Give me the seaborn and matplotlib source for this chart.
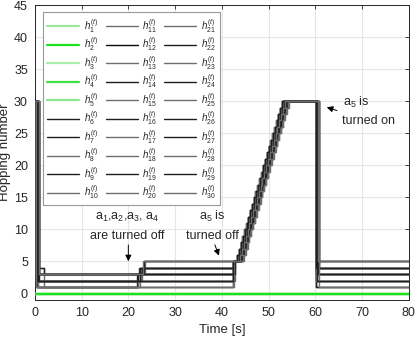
import numpy as np
import pandas as pd
import matplotlib
matplotlib.use("Agg")
import matplotlib.pyplot as plt
import seaborn as sns

sns.set_style("white")
plt.rcParams['font.family'] = ['Liberation Sans', 'DejaVu Sans']
plt.rcParams['mathtext.fontset'] = 'custom'
plt.rcParams['mathtext.rm'] = 'Liberation Sans'
plt.rcParams['mathtext.it'] = 'Liberation Sans:italic'

# ---------------- data ----------------
series_names = [f"h{i}" for i in range(1, 31)]
# nodes h1..h5 (green) stay at 0 for the whole run
green_level = [0, 0, 0, 0, 0]

# nodes h6..h30: step trajectories
start_level = [30] * 25
drop0_time = [0.3, 0.5, 0.7, 0.4, 0.6, 0.2, 0.8, 0.5, 0.9, 0.3,
              0.6, 0.4, 0.7, 0.5, 0.8, 0.3, 0.6, 0.9, 0.4, 0.7,
              0.5, 0.8, 0.3, 0.6, 0.9]
early_level = [1, 1, 4, 1, 1, 2, 2, 2, 4, 2, 2, 2, 3, 3, 3, 3, 3, 3, 3, 1, 2, 3, 1, 2, 3]
settle_time = [0.3, 0.5, 2.0, 0.4, 0.6, 0.2, 0.8, 0.5, 2.0, 0.3,
               0.6, 0.4, 0.7, 0.5, 0.8, 0.3, 0.6, 0.9, 0.4, 0.7,
               0.5, 0.8, 0.3, 0.6, 0.9]
level_a = [1, 1, 1, 1, 1, 2, 2, 2, 3, 2, 2, 2, 3, 3, 3, 3, 3, 3, 3, 1, 2, 3, 1, 2, 3]
switch_time = [22.5, 22.0, 22.4, 21.8, 22.2, 22.6, 22.0, 23.0, 22.3, 22.8,
               22.1, 21.9, 22.5, 23.3, 23.5, 22.7, 23.4, 22.2, 22.9, 22.0,
               22.4, 22.6, 22.3, 22.1, 23.2]
level_b = [1, 2, 2, 3, 1, 2, 3, 3, 4, 4, 3, 2, 4, 5, 5, 4, 5, 3, 4, 2, 3, 4, 1, 2, 5]
ramp_jump_time = [42.3, 42.5, 42.6, 42.4, 42.3, 42.8, 42.5, 42.7, 42.4, 42.6,
                  42.5, 42.3, 42.8, 42.6, 42.4, 42.7, 42.5, 42.3, 42.6, 42.4,
                  42.8, 42.5, 42.7, 42.3, 42.6]
ramp_shift = [0.0, 0.3, 0.6, 0.1, 0.9, 0.4, 1.2, 0.2, 0.7, 1.5,
              0.5, 0.0, 0.8, 1.0, 0.3, 1.3, 0.6, 0.2, 1.1, 0.4,
              0.9, 0.1, 1.4, 0.5, 0.7]
# times at which levels 6..30 are reached on the leading edge of the ramp
ramp_levels = list(range(6, 31))
ramp_times = [43.2, 43.6, 44.0, 44.4, 44.8, 45.2, 45.6, 46.0, 46.4, 46.8,
              47.2, 47.6, 48.0, 48.4, 48.8, 49.2, 49.6, 50.0, 50.4, 50.8,
              51.2, 51.6, 52.0, 52.4, 52.8]
drop2_time = [60.1, 60.2, 60.3, 60.1, 60.5, 60.2, 60.6, 60.4, 60.3, 60.8,
              60.2, 60.1, 60.5, 60.7, 60.3, 60.6, 60.4, 60.2, 60.7, 60.3,
              60.5, 60.1, 60.8, 60.4, 60.6]
level_c = [1, 1, 2, 2, 3, 2, 3, 3, 4, 4, 3, 2, 4, 5, 5, 4, 5, 3, 4, 2, 3, 4, 1, 2, 5]
t_end = 80

colors = ['#9be89b', '#1fe01f', '#a8eea8', '#3fe03f', '#8fe88f',
          '#1e1e1e', '#1e1e1e', '#6e6e6e', '#1e1e1e', '#6e6e6e',
          '#6e6e6e', '#0a0a0a', '#6e6e6e', '#1e1e1e', '#6e6e6e',
          '#1e1e1e', '#6e6e6e', '#6e6e6e', '#1e1e1e', '#6e6e6e',
          '#6e6e6e', '#1e1e1e', '#6e6e6e', '#1e1e1e', '#6e6e6e',
          '#1e1e1e', '#1e1e1e', '#6e6e6e', '#1e1e1e', '#6e6e6e']

# ---------------- build long table ----------------
rows = []
for k in range(5):
    rows.append((series_names[k], 0.0, green_level[k]))
    rows.append((series_names[k], t_end, green_level[k]))
for j in range(25):
    name = series_names[5 + j]
    pts = [(0.0, start_level[j]), (drop0_time[j], early_level[j]),
           (settle_time[j], level_a[j]), (switch_time[j], level_b[j]),
           (ramp_jump_time[j], max(level_b[j], 5))]
    for lv, rt in zip(ramp_levels, ramp_times):
        pts.append((rt + ramp_shift[j], lv))
    pts.append((drop2_time[j], level_c[j]))
    pts.append((t_end, level_c[j]))
    for t, v in pts:
        rows.append((name, t, v))
df = pd.DataFrame(rows, columns=["node", "time", "hops"])

# ---------------- plot ----------------
fig = plt.figure(figsize=(4.15, 3.37), dpi=100)
ax = fig.add_axes([0.084, 0.11, 0.901, 0.875])

for i, name in enumerate(series_names):
    sub = df[df["node"] == name]
    lw = 1.6 if i < 5 else 1.0
    z = 3 if i != 1 else 4
    sns.lineplot(data=sub, x="time", y="hops", ax=ax, color=colors[i],
                 linewidth=lw, drawstyle="steps-post", estimator=None,
                 sort=False, label=rf"$h_{{{i+1}}}^{{(t)}}$", zorder=z)

ax.set_xlim(0, 80)
ax.set_ylim(-1, 45)
ax.set_xticks(range(0, 81, 10))
ax.set_yticks(range(0, 46, 5))
ax.grid(True, color='#e6e6e6', linewidth=0.8)
ax.set_axisbelow(True)
ax.tick_params(direction='in', top=True, right=True, length=3, width=0.6,
               labelsize=9, colors='#262626', pad=5)
for s in ax.spines.values():
    s.set_color('#262626')
    s.set_linewidth(0.7)
ax.set_xlabel("Time [s]", fontsize=9.5, color='#262626', labelpad=4)
ax.set_ylabel("Hopping number", fontsize=9.5, color='#262626', labelpad=2)

leg = ax.legend(ncol=3, loc='upper left', bbox_to_anchor=(0.021, 0.975),
                borderaxespad=0, fontsize=7, handlelength=3.3,
                handletextpad=0.5, columnspacing=0.7, labelspacing=0.07,
                frameon=True, fancybox=False, edgecolor='#999999',
                borderpad=0.45)
leg.get_frame().set_linewidth(0.8)
leg.get_frame().set_alpha(1)
leg.set_zorder(10)

arrow = dict(arrowstyle='-|>', color='black', lw=0.7, mutation_scale=9)
ax.text(19.7, 11.9, "a$_1$,a$_2$,a$_3$, a$_4$", ha='center', va='center', fontsize=9)
ax.text(19.7, 9.0, "are turned off", ha='center', va='center', fontsize=9)
ax.annotate("", xy=(20, 4.6), xytext=(20, 8.0), arrowprops=arrow)
ax.text(38.0, 12.0, "a$_5$ is", ha='center', va='center', fontsize=9)
ax.text(38.0, 9.0, "turned off", ha='center', va='center', fontsize=9)
ax.annotate("", xy=(39.6, 5.5), xytext=(38.3, 8.0), arrowprops=arrow)
ax.text(65.9, 29.8, "a$_5$ is", ha='left', va='center', fontsize=9)
ax.text(65.7, 26.9, "turned on", ha='left', va='center', fontsize=9)
ax.annotate("", xy=(61.9, 29.2), xytext=(65.2, 28.4), arrowprops=arrow)

fig.savefig("out.png", dpi=100)
